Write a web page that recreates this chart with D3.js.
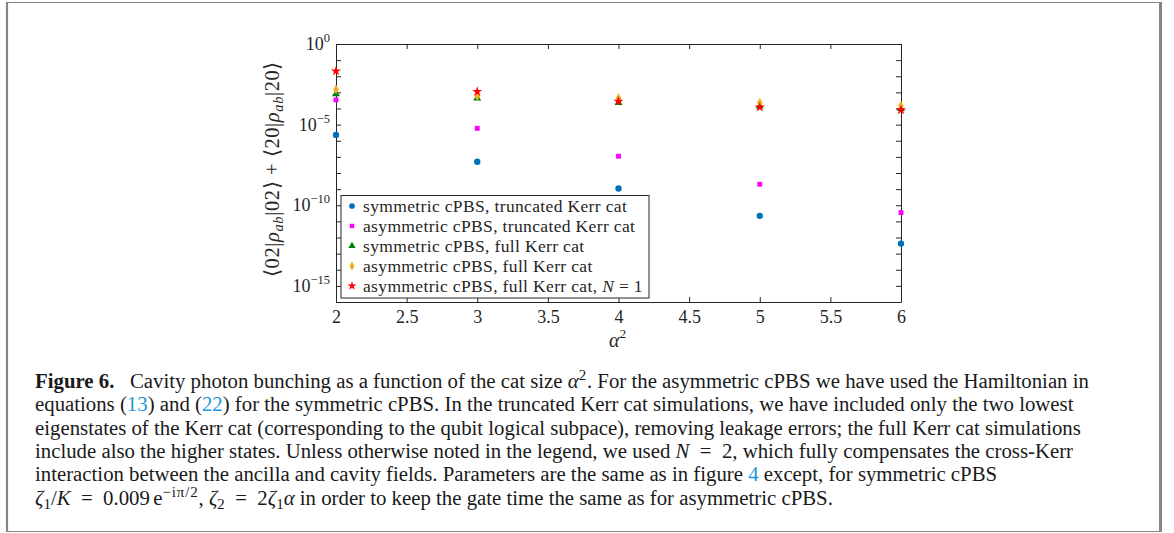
<!DOCTYPE html>
<html><head><meta charset="utf-8">
<script src="https://cdn.jsdelivr.net/npm/d3@7"></script>
<style>body{margin:0;background:#fff} svg{display:block}</style>
</head><body>
<svg id="fig" width="1174" height="533"></svg>
<script>
// cat size alpha^2 and the photon-bunching probability for each simulation
const alpha2 = [2, 3, 4, 5, 6];
const symTrunc   = [2.3e-6, 5.0e-8, 1.1e-9, 2.2e-11, 4.2e-13];
const asymTrunc  = [3.4e-4, 5.9e-6, 1.1e-7, 2.0e-9, 3.5e-11];
const symFull    = [7.9e-4, 4.3e-4, 2.3e-4, 1.4e-4, 9.8e-5];
const asymFull   = [1.5e-3, 6.0e-4, 4.3e-4, 2.3e-4, 1.5e-4];
const asymFullN1 = [2.1e-2, 1.1e-3, 2.8e-4, 1.2e-4, 8.1e-5];
const seriesLabels = [
  "symmetric cPBS, truncated Kerr cat",
  "asymmetric cPBS, truncated Kerr cat",
  "symmetric cPBS, full Kerr cat",
  "asymmetric cPBS, full Kerr cat",
  "asymmetric cPBS, full Kerr cat, "
];
const xTicks = [2, 2.5, 3, 3.5, 4, 4.5, 5, 5.5, 6];
const yLabelExps = [0, -5, -10, -15];

const series = [
  {vals: symTrunc,   color: "#0072BD", shape: d3.symbolCircle,   size: 32},
  {vals: asymTrunc,  color: "#FF00FF", shape: d3.symbolSquare,   size: 24},
  {vals: symFull,    color: "#008000", shape: d3.symbolTriangle, size: 28},
  {vals: asymFull,   color: "#EDB120", shape: d3.symbolDiamond,  size: 28},
  {vals: asymFullN1, color: "#FF0000", shape: d3.symbolStar,     size: 32}
];

const svg = d3.select("#fig");
const serif = "'Liberation Serif', serif";
const ink = "#262626";

// page frame
svg.append("rect").attr("x", 7).attr("y", 2.5).attr("width", 1153.5).attr("height", 529)
  .attr("fill", "none").attr("stroke", "#858585").attr("stroke-width", 1);
svg.append("line").attr("x1", 7).attr("x2", 7).attr("y1", 2).attr("y2", 532).attr("stroke", "#858585").attr("stroke-width", 2.2);
svg.append("line").attr("x1", 1160.5).attr("x2", 1160.5).attr("y1", 2).attr("y2", 532).attr("stroke", "#858585").attr("stroke-width", 3);

const L = 336, R = 901, T = 44, B = 302;
const x = d3.scaleLinear().domain([2, 6]).range([L, R]);
const y = d3.scaleLog().domain([1e-16, 1]).range([B, T]);
const decades = d3.range(-16, 1).map(e => Math.pow(10, e));

const g = svg.append("g");

// axes with inward ticks on all four sides
function styleAxis(sel) {
  sel.select(".domain").attr("stroke", ink);
  sel.selectAll(".tick line").attr("stroke", ink);
  sel.selectAll("text").attr("fill", ink).attr("font-family", serif).attr("font-size", 18);
}
g.append("g").attr("transform", `translate(0,${B})`)
  .call(d3.axisBottom(x).tickValues(xTicks).tickSizeInner(-5).tickSizeOuter(0).tickPadding(8)
        .tickFormat(d => String(d)))
  .call(styleAxis);
g.append("g").attr("transform", `translate(0,${T})`)
  .call(d3.axisTop(x).tickValues(xTicks).tickSizeInner(-5).tickSizeOuter(0).tickFormat(""))
  .call(styleAxis);
g.append("g").attr("transform", `translate(${R},0)`)
  .call(d3.axisRight(y).tickValues(decades).tickSizeInner(-5).tickSizeOuter(0).tickFormat(""))
  .call(styleAxis);
g.append("g").attr("transform", `translate(${L},0)`)
  .call(d3.axisLeft(y).tickValues(decades).tickSizeInner(-5).tickSizeOuter(0).tickFormat(""))
  .call(styleAxis);

// power-of-ten labels on the left axis
const yLab = g.append("g").attr("font-family", serif).attr("fill", ink);
yLabelExps.forEach(e => {
  const t = yLab.append("text").attr("x", L - 6).attr("y", y(Math.pow(10, e)) + 6)
    .attr("text-anchor", "end");
  t.append("tspan").attr("font-size", 18).text("10");
  t.append("tspan").attr("font-size", 12.5).attr("dy", -8).text(e === 0 ? "0" : "\u2212" + (-e));
});

// axis titles
const xt = g.append("text").attr("x", (L + R) / 2 - 1).attr("y", 347).attr("text-anchor", "middle")
  .attr("font-family", serif).attr("fill", ink);
xt.append("tspan").attr("font-style", "italic").attr("font-size", 20).text("\u03B1");
xt.append("tspan").attr("font-size", 13.5).attr("dy", -9).text("2");

const yt = g.append("text").attr("transform", `translate(279,${(T + B) / 2 - 4}) rotate(-90)`)
  .attr("text-anchor", "middle").attr("font-family", serif).attr("font-size", 20.5).attr("fill", ink)
  .attr("letter-spacing", 0.6);
function bra(t, s) {
  t.append("tspan").text("\u27E8" + s + "|");
  t.append("tspan").attr("font-style", "italic").text("\u03C1");
  t.append("tspan").attr("font-style", "italic").attr("font-size", 14.5).attr("dy", 4).text("ab");
  t.append("tspan").attr("dy", -4).text("|" + s + "\u27E9");
}
bra(yt, "02");
yt.append("tspan").text(" + ");
bra(yt, "20");

// data markers
const sym = d3.symbol();
series.forEach(s => {
  g.append("g").selectAll("path").data(s.vals).join("path")
    .attr("transform", (v, i) => `translate(${x(alpha2[i])},${y(v)})`)
    .attr("d", sym.type(s.shape).size(s.size)())
    .attr("fill", s.color);
});

// legend
const lg = g.append("g");
lg.append("rect").attr("x", 341).attr("y", 195.5).attr("width", 308).attr("height", 102.5)
  .attr("fill", "#fff").attr("stroke", ink).attr("stroke-width", 1);
series.forEach((s, i) => {
  const cy = 206 + i * 20;
  lg.append("path").attr("transform", `translate(352,${cy})`)
    .attr("d", sym.type(s.shape).size(s.size * 0.8)()).attr("fill", s.color);
  const t = lg.append("text").attr("x", 363).attr("y", cy + 5.5).attr("font-family", serif)
    .attr("font-size", 17.5).attr("letter-spacing", 0.35).attr("fill", ink).text(seriesLabels[i]);
  if (i === 4) {
    t.append("tspan").attr("font-style", "italic").text("N");
    t.append("tspan").text(" = 1");
  }
});

// caption (math uses wider spacing around relations)
const eq = "\u2002=\u2002";
const capLines = [
  [["Figure 6.", "b"], ["\u2002 Cavity photon bunching as a function of the cat size "], ["\u03B1", "i"], ["2", "sup"],
   [". For the asymmetric cPBS we have used the Hamiltonian in"]],
  [["equations ("], ["13", "link"], [") and ("], ["22", "link"],
   [") for the symmetric cPBS. In the truncated Kerr cat simulations, we have included only the two lowest"]],
  [["eigenstates of the Kerr cat (corresponding to the qubit logical subpace), removing leakage errors; the full Kerr cat simulations"]],
  [["include also the higher states. Unless otherwise noted in the legend, we used "], ["N", "i"],
   [eq + "2, which fully compensates the cross-Kerr"]],
  [["interaction between the ancilla and cavity fields. Parameters are the same as in figure "], ["4", "link"],
   [" except, for symmetric cPBS"]],
  [["\u03B6", "i"], ["1", "sub"], ["/"], ["K", "i"], [eq + "0.009\u2006e"], ["\u2212i\u03C0/2", "sup"], [",\u2005"], ["\u03B6", "i"], ["2", "sub"],
   [eq + "2"], ["\u03B6", "i"], ["1", "sub"], ["\u03B1", "i"], ["\u2005in order to keep the gate time the same as for asymmetric cPBS."]]
];
const cap = svg.append("g").attr("font-family", serif).attr("font-size", 20.8).attr("fill", "#1a1a1a");
capLines.forEach((line, li) => {
  const t = cap.append("text").attr("x", 35).attr("y", 388 + li * 23.3);
  let shift = 0;
  line.forEach(([str, kind]) => {
    const sp = t.append("tspan").text(str);
    let dy = 0;
    if (kind === "b") sp.attr("font-weight", "bold");
    if (kind === "i") sp.attr("font-style", "italic");
    if (kind === "link") sp.attr("fill", "#2196d8");
    if (kind === "sup") { sp.attr("font-size", 15).attr("letter-spacing", 0.8); dy = -8; }
    if (kind === "sub") { sp.attr("font-size", 15); dy = 4; }
    sp.attr("dy", dy - shift);
    shift = dy;
  });
});
</script>
</body></html>
